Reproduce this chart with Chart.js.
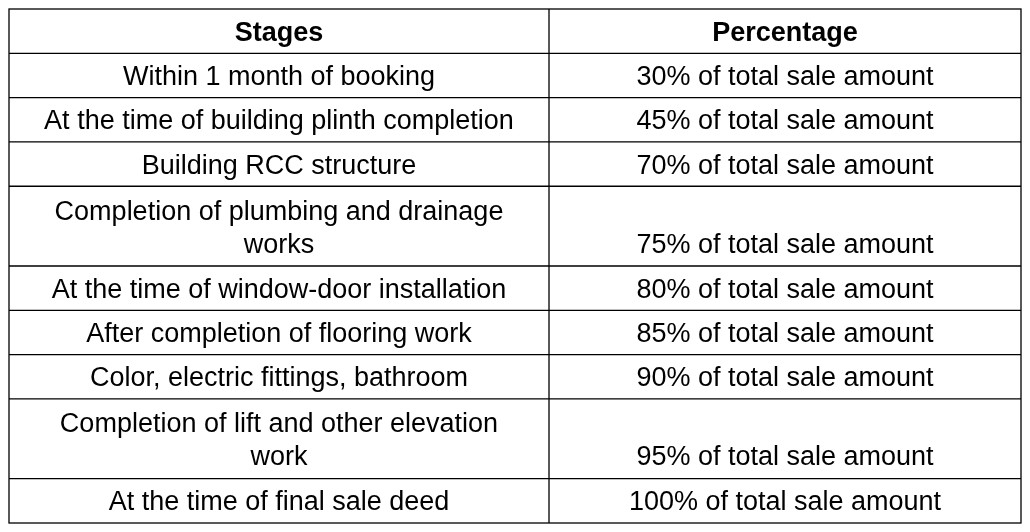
<!DOCTYPE html>
<html><head><meta charset="utf-8">
<script src="https://cdn.jsdelivr.net/npm/chart.js@4"></script>
<style>html,body{margin:0;padding:0;background:#fff}#w{width:1030px;height:532px}</style>
</head><body><div id="w"><canvas id="c"></canvas></div>
<script>
const headers = ["Stages", "Percentage"];
const stages = [
  ["Within 1 month of booking"],
  ["At the time of building plinth completion"],
  ["Building RCC structure"],
  ["Completion of plumbing and drainage", "works"],
  ["At the time of window-door installation"],
  ["After completion of flooring work"],
  ["Color, electric fittings, bathroom"],
  ["Completion of lift and other elevation", "work"],
  ["At the time of final sale deed"]
];
const percentages = ["30% of total sale amount","45% of total sale amount","70% of total sale amount","75% of total sale amount","80% of total sale amount","85% of total sale amount","90% of total sale amount","95% of total sale amount","100% of total sale amount"];

const rowUnits = [1].concat(stages.map(s => s.length === 1 ? 1 : 1.8));
const bounds = [0]; rowUnits.forEach(u => bounds.push(bounds[bounds.length-1] + u));
const total = bounds[bounds.length-1];
const colSplit = 0.5336;

const tablePlugin = {
  id: 'table',
  afterDraw(chart) {
    const ctx = chart.ctx, xs = chart.scales.x, ys = chart.scales.y;
    const X = v => xs.getPixelForValue(v), Y = v => ys.getPixelForValue(v);
    ctx.save();
    ctx.strokeStyle = '#000'; ctx.lineWidth = 1.3;
    ctx.strokeRect(X(0), Y(0), X(1)-X(0), Y(total)-Y(0));
    ctx.beginPath();
    ctx.moveTo(X(colSplit), Y(0)); ctx.lineTo(X(colSplit), Y(total));
    bounds.slice(1, -1).forEach(b => { ctx.moveTo(X(0), Y(b)); ctx.lineTo(X(1), Y(b)); });
    ctx.stroke();
    ctx.fillStyle = '#000'; ctx.textAlign = 'center'; ctx.textBaseline = 'middle';
    const c1 = (X(0)+X(colSplit))/2, c2 = (X(colSplit)+X(1))/2;
    ctx.font = 'bold 27px "Liberation Sans", Arial, sans-serif';
    const hy = (Y(0)+Y(1))/2 + 2;
    ctx.fillText(headers[0], c1, hy); ctx.fillText(headers[1], c2, hy);
    ctx.font = '27px "Liberation Sans", Arial, sans-serif';
    stages.forEach((s, i) => {
      const top = Y(bounds[i+1]), bot = Y(bounds[i+2]), mid = (top+bot)/2;
      if (s.length === 1) {
        ctx.fillText(s[0], c1, mid + 2);
        ctx.fillText(percentages[i], c2, mid + 2);
      } else {
        ctx.fillText(s[0], c1, top + 26);
        ctx.fillText(s[1], c1, top + 59);
        ctx.fillText(percentages[i], c2, top + 59);
      }
    });
    ctx.restore();
  }
};

new Chart(document.getElementById('c'), {
  type: 'scatter',
  data: { datasets: [{ data: [] }] },
  options: {
    responsive: true, maintainAspectRatio: false, animation: false,
    layout: { padding: { left: 9, right: 9, top: 9, bottom: 9 } },
    plugins: { legend: { display: false }, tooltip: { enabled: false } },
    scales: {
      x: { type: 'linear', min: 0, max: 1, display: false },
      y: { type: 'linear', min: 0, max: total, reverse: true, display: false }
    }
  },
  plugins: [tablePlugin]
});
</script></body></html>
